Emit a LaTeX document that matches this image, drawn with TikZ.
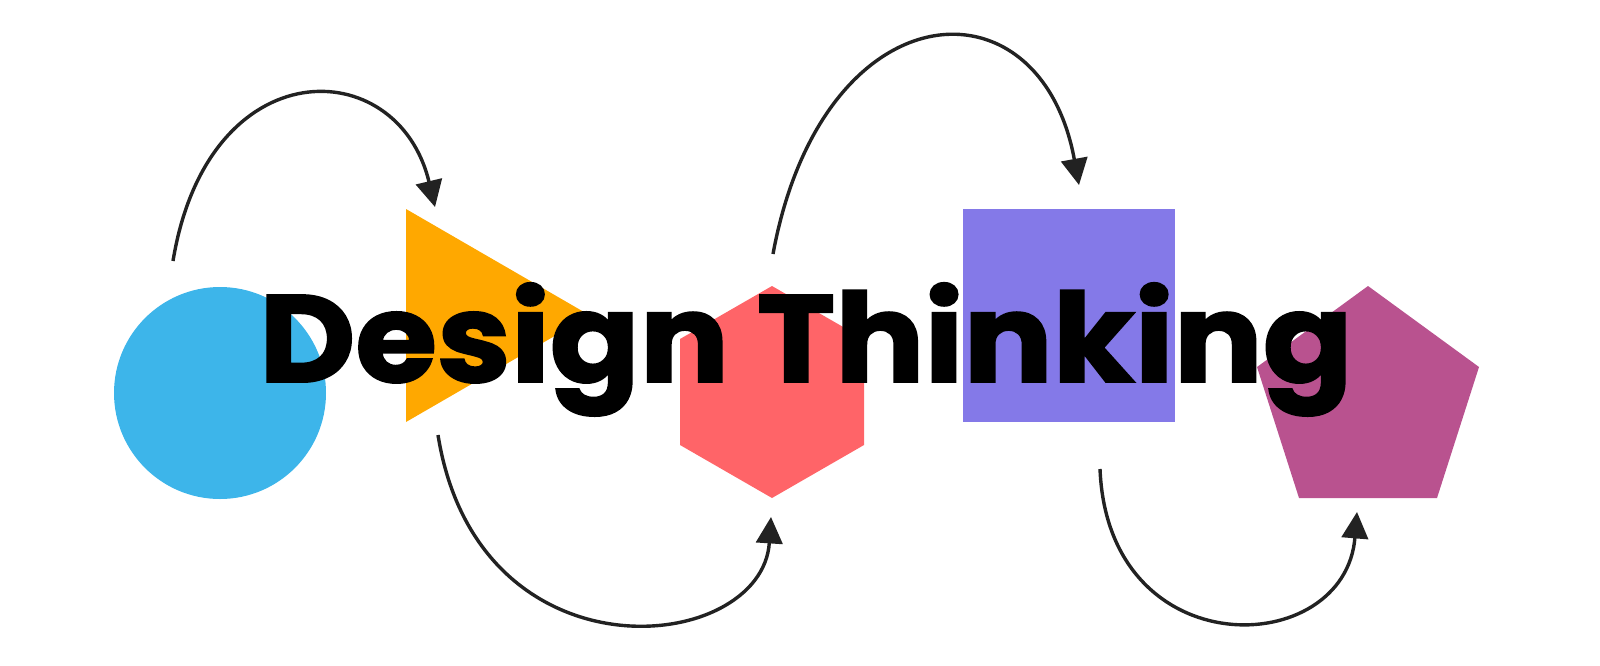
\documentclass[tikz,border=0pt]{standalone}
\usepackage{fontspec}
\setmainfont{Poppins}[BoldFeatures={FakeBold=1.6}]
\usepackage{tikz}
\usetikzlibrary{arrows.meta}
\definecolor{circblue}{HTML}{3DB5EA}
\definecolor{triorange}{HTML}{FFA800}
\definecolor{hexred}{HTML}{FF6468}
\definecolor{sqpurple}{HTML}{8479E8}
\definecolor{pentmagenta}{HTML}{B9528F}
\definecolor{arrowgray}{HTML}{222222}
\tikzset{
    loop arrow/.style={draw=arrowgray, line width=0.85mm,
        -{Triangle[length=6.6mm, width=6.6mm]}},
    title/.style={font=\fontsize{88pt}{88pt}\selectfont\bfseries, inner sep=0pt}
}
\begin{document}
\begin{tikzpicture}[x=0.25mm, y=-0.25mm]
            \useasboundingbox (0,0) rectangle (1600,665);

            % the five shapes
            \fill[circblue] (220,393) circle (106);
            \fill[triorange] (406,209) -- (590,315.5) -- (406,422) -- cycle;
            \fill[hexred] (772,286) -- (864,339) -- (864,445) -- (772,498)
                -- (680,445) -- (680,339) -- cycle;
            \fill[sqpurple] (963,209) rectangle (1175,422);
            \fill[pentmagenta] (1368,286) -- (1479,367) -- (1437,498)
                -- (1299,498) -- (1257,367) -- cycle;

            % ends of the arrows
            \coordinate (s1) at (173,261);
            \coordinate (e1) at (435,207);
            \coordinate (s2) at (438,435);
            \coordinate (e2) at (771,517);
            \coordinate (s3) at (773,254);
            \coordinate (e3) at (1079,185);
            \coordinate (s4) at (1100,469);
            \coordinate (e4) at (1357,512);

            \draw[loop arrow] (s1) .. controls (208,48) and (398,52) .. (e1);
            \draw[loop arrow] (s2) .. controls (478,685) and (762,655) .. (e2);
            \draw[loop arrow] (s3) .. controls (822,-12) and (1040,-28) .. (e3);
            \draw[loop arrow] (s4) .. controls (1108,668) and (1345,660) .. (e4);

            \node[title, anchor=base, xscale=1.07] (design) at (806,382) {Design Thinking};
        \end{tikzpicture}
\end{document}
